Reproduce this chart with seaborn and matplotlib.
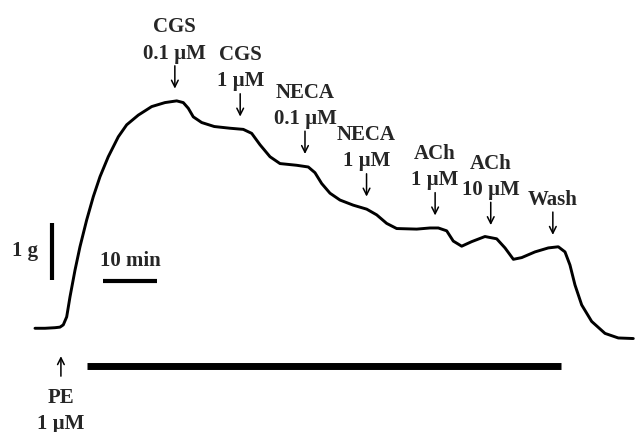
import matplotlib
matplotlib.use("Agg")
import matplotlib.pyplot as plt
import seaborn as sns
import numpy as np
import pandas as pd

# isometric tension trace, time in min, tension in g
time_min = [0.00, 1.85, 3.70, 4.63, 5.24, 5.87, 6.48, 7.41, 8.33, 9.57,
            10.80, 12.04, 13.57, 15.43, 16.98, 19.13, 21.61, 24.07, 26.24, 27.46,
            28.39, 29.31, 30.87, 33.20, 36.11, 38.57, 40.13, 41.67, 43.52, 45.37,
            48.46, 50.61, 51.85, 53.09, 54.63, 56.48, 58.94, 61.43, 63.28, 65.13,
            66.98, 70.69, 73.15, 74.69, 76.24, 77.46, 79.02, 80.87, 83.33, 85.50,
            87.04, 88.59, 90.13, 92.59, 95.06, 96.91, 98.15, 99.07, 100.00, 101.24,
            103.09, 105.56, 108.02, 110.80]
tension_g = [0.00, 0.00, 0.01, 0.02, 0.06, 0.20, 0.55, 1.02, 1.43, 1.90,
             2.31, 2.66, 3.01, 3.36, 3.57, 3.74, 3.89, 3.96, 3.99, 3.96,
             3.86, 3.71, 3.61, 3.54, 3.51, 3.49, 3.42, 3.22, 3.01, 2.89,
             2.86, 2.83, 2.73, 2.54, 2.37, 2.25, 2.16, 2.09, 1.99, 1.84,
             1.75, 1.74, 1.76, 1.76, 1.71, 1.53, 1.44, 1.52, 1.61, 1.57,
             1.41, 1.21, 1.24, 1.34, 1.41, 1.43, 1.34, 1.11, 0.76, 0.41,
             0.12, -0.09, -0.17, -0.18]

# drug additions
event_labels = ["CGS\n0.1 \u00b5M", "CGS\n1 \u00b5M", "NECA\n0.1 \u00b5M", "NECA\n1 \u00b5M",
                "ACh\n1 \u00b5M", "ACh\n10 \u00b5M", "Wash"]
event_times = [25.9, 38.0, 50.0, 61.4, 74.1, 84.4, 95.9]

pe_time = 4.8
pe_bar = [9.6, 97.4]

sns.set_style("white")
plt.rcParams['font.family'] = ['Liberation Serif', 'DejaVu Serif']
plt.rcParams['font.weight'] = 'bold'

fig = plt.figure(figsize=(6.38, 4.32), dpi=100)
ax = fig.add_axes([0, 0, 1, 1])

df = pd.DataFrame({"t": time_min, "g": tension_g})
sns.lineplot(data=df, x="t", y="g", ax=ax, color="black", lw=2.1,
             estimator=None, sort=False, solid_joinstyle="round", solid_capstyle="round")

fs = 15
t_arr = np.array(time_min)
g_arr = np.array(tension_g)
for lab, t in zip(event_labels, event_times):
    tip = np.interp(t, t_arr, g_arr) + 0.22
    top = tip + 0.40
    ax.annotate("", xy=(t, tip), xytext=(t, top),
                arrowprops=dict(arrowstyle="->", lw=1.1, color="black",
                                shrinkA=0, shrinkB=0, mutation_scale=12))
    ax.text(t, top + 0.04, lab, ha="center", va="bottom", fontsize=fs,
            fontweight="bold", linespacing=1.42)

# PE arrow and label
ax.annotate("", xy=(pe_time, -0.49), xytext=(pe_time, -0.84),
            arrowprops=dict(arrowstyle="->", lw=1.1, color="black",
                            shrinkA=0, shrinkB=0, mutation_scale=12))
ax.text(pe_time, -1.04, "PE\n1 \u00b5M", ha="center", va="top", fontsize=fs,
        fontweight="bold", linespacing=1.4)
ax.plot(pe_bar, [-0.67, -0.67], color="black", lw=5, solid_capstyle="butt")

# scale bars
ax.plot([3.1, 3.1], [0.85, 1.85], color="black", lw=3, solid_capstyle="butt")
ax.text(0.6, 1.35, "1 g", ha="right", va="center", fontsize=fs, fontweight="bold")
ax.plot([12.6, 22.6], [0.83, 0.83], color="black", lw=3, solid_capstyle="butt")
ax.text(17.6, 1.0, "10 min", ha="center", va="bottom", fontsize=fs, fontweight="bold")

ax.set_xlim(-6.48, 111.67)
ax.set_ylim(-1.82, 5.76)
ax.axis("off")

fig.savefig("out.png", dpi=100)
